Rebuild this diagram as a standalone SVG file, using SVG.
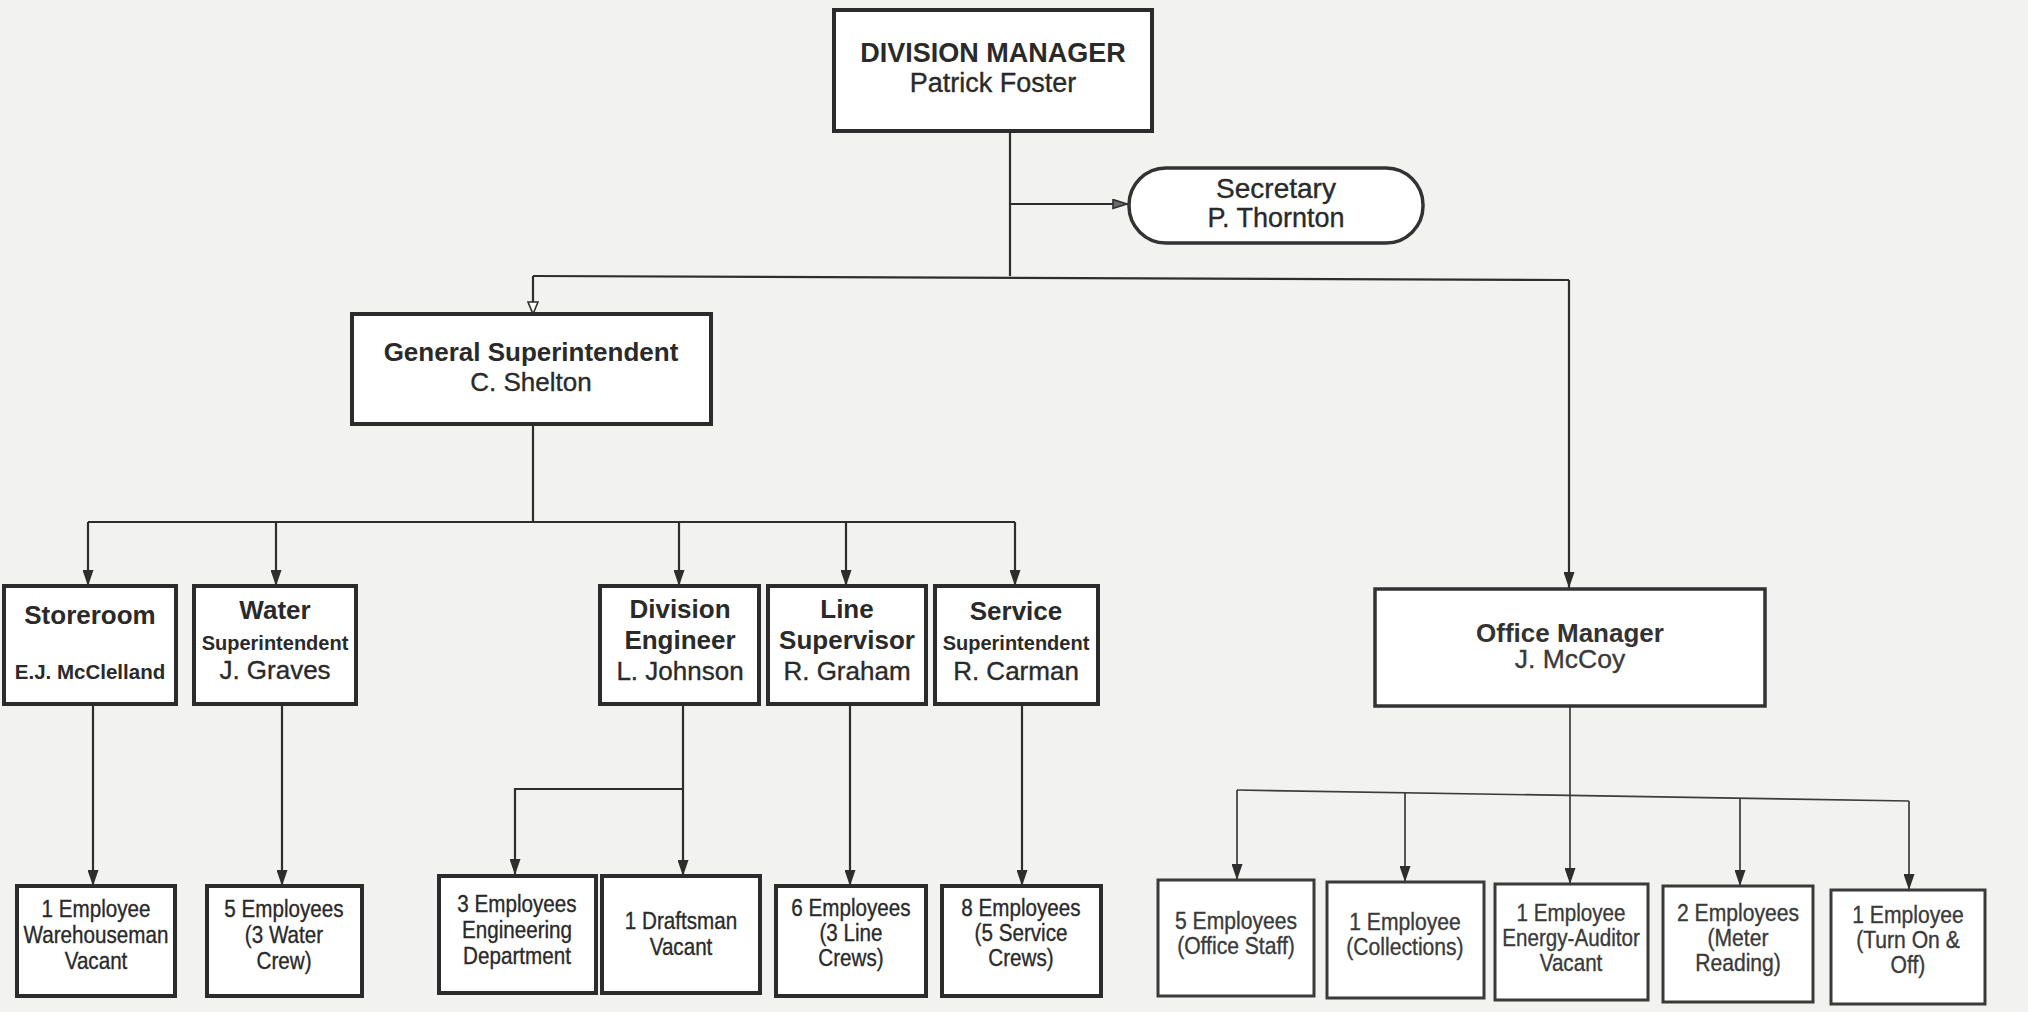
<svg xmlns="http://www.w3.org/2000/svg" width="2028" height="1012" viewBox="0 0 2028 1012">
<defs>
<marker id="arr" markerUnits="userSpaceOnUse" markerWidth="16" markerHeight="11" refX="16" refY="5.5" orient="auto" viewBox="0 0 16 11">
<path d="M0,0 L16,5.5 L0,11 z" fill="#2e2e2e"/>
</marker>
<marker id="arrSm" markerUnits="userSpaceOnUse" markerWidth="16" markerHeight="11" refX="16" refY="5.5" orient="auto" viewBox="0 0 16 11">
<path d="M1,1 L15,5.5 L1,10 z" fill="#6a6a6a" stroke="#2e2e2e" stroke-width="1.6"/>
</marker>
<marker id="arrOpen" markerUnits="userSpaceOnUse" markerWidth="14" markerHeight="12" refX="13" refY="6" orient="auto" viewBox="0 0 14 12">
<path d="M1,1 L13,6 L1,11 z" fill="#ffffff" stroke="#2e2e2e" stroke-width="1.6"/>
</marker>
</defs>
<style>
text { font-family: "Liberation Sans", Arial, sans-serif; fill: #2a2a2a; text-anchor: middle; }
.r { stroke: #2a2a2a; stroke-width: 0.35; }
.b { font-weight: bold; }
.box { fill: #ffffff; stroke: #2c2c2c; stroke-width: 4; }
.box2 { fill: #ffffff; stroke: #333333; stroke-width: 3.5; }
.box3 { fill: #ffffff; stroke: #3a3a3a; stroke-width: 3; }
.ln { fill: none; stroke: #2e2e2e; stroke-width: 2.2; }
.ln2 { fill: none; stroke: #3c3c3c; stroke-width: 1.7; }
.t27 { font-size: 27px; }
.t26 { font-size: 26px; }
.t20 { font-size: 20px; }
.t24 { font-size: 24px; }
.lt { fill: #3a3a3a; stroke: #3a3a3a; }
</style>
<rect x="0" y="0" width="2028" height="1012" fill="#f2f2f0"/>

<g id="connectors">
<polyline class="ln" points="1010,131 1010,276"/>
<line class="ln" x1="1010" y1="204" x2="1128" y2="204" marker-end="url(#arrSm)"/>
<polyline class="ln" points="533,276 1569,280"/>
<line class="ln" x1="533" y1="276" x2="533" y2="314" marker-end="url(#arrOpen)"/>
<line class="ln" x1="1569" y1="280" x2="1569" y2="588" marker-end="url(#arr)"/>
<line class="ln" x1="533" y1="424" x2="533" y2="522"/>
<line class="ln" x1="88" y1="522" x2="1015" y2="522"/>
<line class="ln" x1="88" y1="522" x2="88" y2="586" marker-end="url(#arr)"/>
<line class="ln" x1="276" y1="522" x2="276" y2="586" marker-end="url(#arr)"/>
<line class="ln" x1="679" y1="522" x2="679" y2="586" marker-end="url(#arr)"/>
<line class="ln" x1="846" y1="522" x2="846" y2="586" marker-end="url(#arr)"/>
<line class="ln" x1="1015" y1="522" x2="1015" y2="586" marker-end="url(#arr)"/>
<line class="ln" x1="93" y1="704" x2="93" y2="886" marker-end="url(#arr)"/>
<line class="ln" x1="282" y1="704" x2="282" y2="886" marker-end="url(#arr)"/>
<line class="ln" x1="683" y1="704" x2="683" y2="876" marker-end="url(#arr)"/>
<polyline class="ln" points="683,789 515,789 515,875" marker-end="url(#arr)"/>
<line class="ln" x1="850" y1="704" x2="850" y2="886" marker-end="url(#arr)"/>
<line class="ln" x1="1022" y1="704" x2="1022" y2="886" marker-end="url(#arr)"/>
<line class="ln2" x1="1570" y1="706" x2="1570" y2="884" marker-end="url(#arr)"/>
<polyline class="ln2" points="1237,790 1909,801"/>
<line class="ln2" x1="1237" y1="790" x2="1237" y2="880" marker-end="url(#arr)"/>
<line class="ln2" x1="1405" y1="793" x2="1405" y2="882" marker-end="url(#arr)"/>
<line class="ln2" x1="1740" y1="798" x2="1740" y2="886" marker-end="url(#arr)"/>
<line class="ln2" x1="1909" y1="801" x2="1909" y2="890" marker-end="url(#arr)"/>
</g>

<g id="division-manager">
<rect class="box" x="834" y="10" width="318" height="121"/>
<text class="b t27" x="993" y="62">DIVISION MANAGER</text>
<text class="r t27" x="993" y="92">Patrick Foster</text>
</g>

<g id="secretary">
<rect class="box2" x="1129" y="168" width="294" height="75" rx="37" ry="37"/>
<text class="r" x="1276" y="198" style="font-size:28px">Secretary</text>
<text class="r" x="1276" y="227" style="font-size:27px">P. Thornton</text>
</g>

<g id="general-superintendent">
<rect class="box" x="352" y="314" width="359" height="110"/>
<text class="b t26" x="531" y="361">General Superintendent</text>
<text class="r t26" x="531" y="391">C. Shelton</text>
</g>

<g id="storeroom">
<rect class="box" x="4" y="586" width="172" height="118"/>
<text class="b t26" x="90" y="624">Storeroom</text>
<text class="b" x="90" y="679" style="font-size:20.5px">E.J. McClelland</text>
</g>

<g id="water">
<rect class="box" x="194" y="586" width="162" height="118"/>
<text class="b t26" x="275" y="619">Water</text>
<text class="b t20" x="275" y="650">Superintendent</text>
<text class="r t26" x="275" y="679">J. Graves</text>
</g>

<g id="division-engineer">
<rect class="box" x="600" y="586" width="159" height="118"/>
<text class="b t26" x="680" y="618">Division</text>
<text class="b t26" x="680" y="649">Engineer</text>
<text class="r t26" x="680" y="680">L. Johnson</text>
</g>

<g id="line-supervisor">
<rect class="box" x="768" y="586" width="158" height="118"/>
<text class="b t26" x="847" y="618">Line</text>
<text class="b t26" x="847" y="649">Supervisor</text>
<text class="r t26" x="847" y="680">R. Graham</text>
</g>

<g id="service">
<rect class="box" x="935" y="586" width="163" height="118"/>
<text class="b t26" x="1016" y="620">Service</text>
<text class="b t20" x="1016" y="650">Superintendent</text>
<text class="r t26" x="1016" y="680">R. Carman</text>
</g>

<g id="office-manager">
<rect class="box2" x="1375" y="589" width="390" height="117"/>
<text class="b" x="1570" y="642" style="font-size:26px;fill:#333">Office Manager</text>
<text class="r lt" x="1570" y="668" style="font-size:26.5px">J. McCoy</text>
</g>

<g id="warehouseman">
<rect class="box" x="17" y="886" width="158" height="110"/>
<g transform="translate(96 0) scale(0.86 1)">
<text class="r t24" x="0" y="917">1 Employee</text>
<text class="r t24" x="0" y="943">Warehouseman</text>
<text class="r t24" x="0" y="969">Vacant</text>
</g>
</g>

<g id="water-crew">
<rect class="box" x="207" y="886" width="155" height="110"/>
<g transform="translate(284 0) scale(0.86 1)">
<text class="r t24" x="0" y="917">5 Employees</text>
<text class="r t24" x="0" y="943">(3 Water</text>
<text class="r t24" x="0" y="969">Crew)</text>
</g>
</g>

<g id="engineering-dept">
<rect class="box" x="439" y="876" width="157" height="117"/>
<g transform="translate(517 0) scale(0.86 1)">
<text class="r t24" x="0" y="912">3 Employees</text>
<text class="r t24" x="0" y="938">Engineering</text>
<text class="r t24" x="0" y="964">Department</text>
</g>
</g>

<g id="draftsman">
<rect class="box" x="602" y="876" width="158" height="117"/>
<g transform="translate(681 0) scale(0.86 1)">
<text class="r t24" x="0" y="929">1 Draftsman</text>
<text class="r t24" x="0" y="955">Vacant</text>
</g>
</g>

<g id="line-crews">
<rect class="box" x="776" y="886" width="150" height="110"/>
<g transform="translate(851 0) scale(0.86 1)">
<text class="r t24" x="0" y="916">6 Employees</text>
<text class="r t24" x="0" y="941">(3 Line</text>
<text class="r t24" x="0" y="966">Crews)</text>
</g>
</g>

<g id="service-crews">
<rect class="box" x="942" y="886" width="159" height="110"/>
<g transform="translate(1021 0) scale(0.86 1)">
<text class="r t24" x="0" y="916">8 Employees</text>
<text class="r t24" x="0" y="941">(5 Service</text>
<text class="r t24" x="0" y="966">Crews)</text>
</g>
</g>

<g id="office-staff">
<rect class="box3" x="1158" y="880" width="156" height="116"/>
<g transform="translate(1236 0) scale(0.88 1)">
<text class="r lt t24" x="0" y="929">5 Employees</text>
<text class="r lt t24" x="0" y="954">(Office Staff)</text>
</g>
</g>

<g id="collections">
<rect class="box3" x="1327" y="882" width="157" height="116"/>
<g transform="translate(1405 0) scale(0.88 1)">
<text class="r lt t24" x="0" y="930">1 Employee</text>
<text class="r lt t24" x="0" y="955">(Collections)</text>
</g>
</g>

<g id="energy-auditor">
<rect class="box3" x="1495" y="884" width="153" height="116"/>
<g transform="translate(1571 0) scale(0.86 1)">
<text class="r lt t24" x="0" y="921">1 Employee</text>
<text class="r lt t24" x="0" y="946">Energy-Auditor</text>
<text class="r lt t24" x="0" y="971">Vacant</text>
</g>
</g>

<g id="meter-reading">
<rect class="box3" x="1663" y="886" width="150" height="116"/>
<g transform="translate(1738 0) scale(0.88 1)">
<text class="r lt t24" x="0" y="921">2 Employees</text>
<text class="r lt t24" x="0" y="946">(Meter</text>
<text class="r lt t24" x="0" y="971">Reading)</text>
</g>
</g>

<g id="turn-on-off">
<rect class="box3" x="1831" y="890" width="154" height="114"/>
<g transform="translate(1908 0) scale(0.88 1)">
<text class="r lt t24" x="0" y="923">1 Employee</text>
<text class="r lt t24" x="0" y="948">(Turn On &amp;</text>
<text class="r lt t24" x="0" y="973">Off)</text>
</g>
</g>
</svg>
